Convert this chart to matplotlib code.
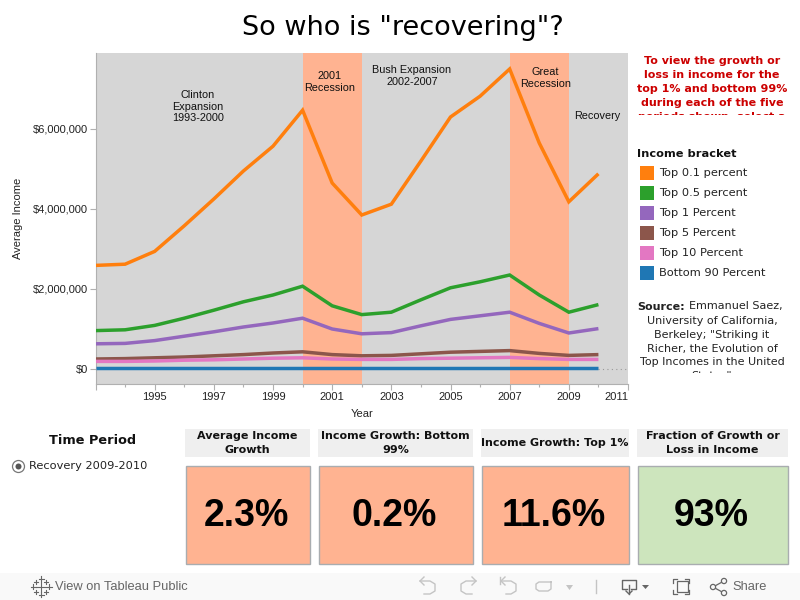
import matplotlib
matplotlib.use('Agg')
import matplotlib.pyplot as plt
from matplotlib.patches import Rectangle, Circle, Polygon
from matplotlib.ticker import FuncFormatter, MultipleLocator
from matplotlib.transforms import Bbox

years = list(range(1993, 2011))
top_01 = [2.59, 2.62, 2.94, 3.58, 4.25, 4.95, 5.57, 6.47, 4.65, 3.85, 4.12, 5.2, 6.3, 6.82, 7.5, 5.65, 4.18, 4.88]
top_05 = [0.96, 0.98, 1.09, 1.27, 1.47, 1.68, 1.85, 2.07, 1.58, 1.36, 1.42, 1.73, 2.03, 2.18, 2.35, 1.85, 1.42, 1.61]
top_1 = [0.63, 0.64, 0.71, 0.82, 0.93, 1.05, 1.15, 1.27, 1.0, 0.88, 0.91, 1.08, 1.24, 1.33, 1.42, 1.14, 0.9, 1.01]
top_5 = [0.25, 0.26, 0.28, 0.3, 0.33, 0.36, 0.4, 0.43, 0.36, 0.33, 0.34, 0.38, 0.42, 0.44, 0.46, 0.39, 0.34, 0.36]
top_10 = [0.19, 0.19, 0.2, 0.22, 0.23, 0.25, 0.27, 0.28, 0.25, 0.24, 0.24, 0.26, 0.27, 0.28, 0.29, 0.26, 0.24, 0.24]
bottom_90 = [0.03, 0.03, 0.03, 0.03, 0.03, 0.03, 0.03, 0.03, 0.03, 0.03, 0.03, 0.03, 0.03, 0.03, 0.03, 0.03, 0.03, 0.03]

series_names = ['Top 0.1 percent', 'Top 0.5 percent', 'Top 1 Percent',
                'Top 5 Percent', 'Top 10 Percent', 'Bottom 90 Percent']
series_values = [top_01, top_05, top_1, top_5, top_10, bottom_90]
series_colors = ['#ff7f0e', '#2ca02c', '#9467bd', '#8c564b', '#e377c2', '#1f77b4']

recessions = [(2000, 2002), (2007, 2009)]
period_labels = [(1996.46, 6.97, 'Clinton\nExpansion\n1993-2000'),
                 (2000.9, 7.45, '2001\nRecession'),
                 (2003.7, 7.6, 'Bush Expansion\n2002-2007'),
                 (2008.2, 7.55, 'Great\nRecession'),
                 (2009.95, 6.45, 'Recovery')]
x_ticks = [1993, 1995, 1997, 1999, 2001, 2003, 2005, 2007, 2009, 2011]
x_tick_labels = ['', '1995', '1997', '1999', '2001', '2003', '2005', '2007', '2009', '2011']

kpi_titles = ['Average Income\nGrowth', 'Income Growth: Bottom\n99%', 'Income Growth: Top 1%',
              'Fraction of Growth or\nLoss in Income']
kpi_values = ['2.3%', '0.2%', '11.6%', '93%']
kpi_colors = ['#ffb391', '#ffb391', '#ffb391', '#cde5bd']
kpi_left = [185, 318, 481, 637]
kpi_right = [310, 473, 629, 788]

W, H = 800, 600
fig = plt.figure(figsize=(8, 6), dpi=100)

# main chart, placed by pixels
ax = fig.add_axes([95.5 / W, 1 - 384 / H, (628 - 95.5) / W, (384 - 53) / H])
ax.set_facecolor('#d6d6d6')
for start, end in recessions:
    ax.axvspan(start, end, color='#ffb391', lw=0, zorder=1)
for vals, col in zip(series_values, series_colors):
    ax.plot(years, vals, color=col, lw=2.5, zorder=3, solid_capstyle='butt', solid_joinstyle='miter')
ax.plot([2010, 2011], [0, 0], color='#999999', lw=0.8, ls=(0, (1, 3)), zorder=2)
ax.set_xticks(x_ticks)
ax.set_xticklabels(x_tick_labels)
ax.set_xlim(1993, 2011)
ax.set_ylim(-0.375, 7.9)
ax.xaxis.set_minor_locator(MultipleLocator(1))
ax.yaxis.set_major_locator(MultipleLocator(2))
ax.yaxis.set_major_formatter(FuncFormatter(lambda v, p: '${:,.0f}'.format(v * 1e6)))
ax.tick_params(which='major', length=4, width=0.8, color='#b0b0b0', labelsize=8, pad=1.5, labelcolor='#222222')
ax.tick_params(which='minor', length=2, width=0.8, color='#b0b0b0')
for lab in ax.get_xticklabels() + ax.get_yticklabels():
    lab.set_family('Liberation Sans')
ax.get_xticklabels()[-1].set_ha('right')
for side in ['top', 'right']:
    ax.spines[side].set_visible(False)
for side in ['left', 'bottom']:
    ax.spines[side].set_color('#b0b0b0')
ax.set_xlabel('Year', fontsize=8, family='Liberation Sans', color='#222222')
ax.xaxis.set_label_coords(0.5, -0.075)
ax.set_ylabel('Average Income', fontsize=8, family='Liberation Sans', color='#222222')
ax.yaxis.set_label_coords(-0.136, 0.5)
for x, y, txt in period_labels:
    ax.text(x, y, txt, ha='center', va='top', fontsize=7.8, family='Liberation Sans',
            linespacing=1.2, color='#111111', zorder=4)

# overlay in pixel coordinates for everything around the chart
ov = fig.add_axes([0, 0, 1, 1], zorder=5)
ov.set_xlim(0, W)
ov.set_ylim(H, 0)
ov.axis('off')


def clip_text(t, x0, y0, x1, y1):
    # cut the text off like the scrolling boxes in the dashboard, box is in display pixels
    t.set_clip_box(Bbox([[x0, H - y1], [x1, H - y0]]))
    t.set_clip_on(True)


ov.text(403, 28, 'So who is "recovering"?', ha='center', va='center', fontsize=19.5, color='black')

red = ov.text(712, 56.5, 'To view the growth or\nloss in income for the\ntop 1% and bottom 99%\nduring each of the five\nperiods shown, select a',
              ha='center', va='top', fontsize=8, fontweight='bold', color='#cc0000', linespacing=1.47)
clip_text(red, 630, 50, 800, 115)

ov.text(637, 154, 'Income bracket', ha='left', va='center', fontsize=8.2, fontweight='bold', color='#111111')
for i, (name, col) in enumerate(zip(series_names, series_colors)):
    yc = 172.5 + i * 20
    ov.add_patch(Rectangle((640, yc - 7), 14, 14, fc=col, ec='none'))
    ov.text(659, yc, name, ha='left', va='center', fontsize=8.2, color='#222222')

ov.text(685, 306.5, 'Source:', ha='right', va='center', fontsize=8, fontweight='bold', color='#222222')
ov.text(689, 306.5, 'Emmanuel Saez,', ha='left', va='center', fontsize=8, color='#222222')
src = ov.text(712, 316, 'University of California,\nBerkeley; "Striking it\nRicher, the Evolution of\nTop Incomes in the United\nStates"',
              ha='center', va='top', fontsize=8, color='#222222', linespacing=1.47)
clip_text(src, 630, 295, 800, 373)

ov.text(93, 440, 'Time Period', ha='center', va='center', fontsize=9.3, fontweight='bold', color='#111111')
ov.add_patch(Circle((18.5, 466.5), 6, fc='white', ec='#777777', lw=0.9))
ov.add_patch(Circle((18.5, 466.5), 3, fc='#555555', ec='none'))
ov.text(29, 466, 'Recovery 2009-2010', ha='left', va='center', fontsize=8.2, color='#222222')

for x0, x1, title, val, col in zip(kpi_left, kpi_right, kpi_titles, kpi_values, kpi_colors):
    ov.add_patch(Rectangle((x0, 429), x1 - x0, 28, fc='#efefef', ec='none'))
    ov.text((x0 + x1) / 2, 443, title, ha='center', va='center', fontsize=8, fontweight='bold',
            color='#111111', linespacing=1.47)
    ov.add_patch(Rectangle((x0 + 0.5, 465.5), x1 - x0 - 1, 98, fc=col, ec='#a9adb0', lw=1))
    ov.text((x0 + x1) / 2 - 1, 516, val, ha='center', va='center', fontsize=27, fontweight='bold',
            family='Liberation Sans', color='black')

# toolbar strip
ov.add_patch(Rectangle((0, 573), W, 27, fc='#f9f9f9', ec='none'))
ov.text(55, 586.5, 'View on Tableau Public', ha='left', va='center', fontsize=9.3,
        family='Liberation Sans', color='#666666')
ov.text(732, 586.5, 'Share', ha='left', va='center', fontsize=9.3, family='Liberation Sans', color='#666666')
icon = '#c4c4c4'
dark = '#666666'
# tableau snowflake
for dx, dy, s in [(0, 0, 5), (-8, 0, 2.5), (8, 0, 2.5), (0, -8, 2.5), (0, 8, 2.5), (-5, -5, 2), (5, -5, 2), (-5, 5, 2), (5, 5, 2)]:
    ov.plot([41 + dx - s, 41 + dx + s], [586.5 + dy, 586.5 + dy], color=dark, lw=0.8)
    ov.plot([41 + dx, 41 + dx], [586.5 + dy - s, 586.5 + dy + s], color=dark, lw=0.8)
# undo / redo / revert / refresh
ov.plot([424, 420, 424], [577, 581, 585], color=icon, lw=1)
ov.plot([420, 430, 435, 435, 430, 424], [581, 581, 584, 591, 594, 594], color=icon, lw=1)
ov.plot([472, 476, 472], [577, 581, 585], color=icon, lw=1)
ov.plot([476, 466, 461, 461, 466, 472], [581, 581, 584, 591, 594, 594], color=icon, lw=1)
ov.plot([505, 501, 505], [577, 581, 585], color=icon, lw=1)
ov.plot([501, 511, 516, 516, 511, 506], [581, 581, 584, 591, 594, 594], color=icon, lw=1)
ov.plot([500, 500], [577, 584], color=icon, lw=1)
ov.plot([551, 539, 536, 536, 539, 548, 551, 551], [582, 582, 584, 589, 591, 591, 589, 582], color=icon, lw=1)
ov.add_patch(Polygon([[566, 585], [573, 585], [569.5, 590]], fc=icon, ec='none'))
ov.plot([595.5, 595.5], [580, 593], color=icon, lw=1)
# download
ov.plot([627, 622, 622, 636, 636, 631], [589, 589, 580, 580, 589, 589], color=dark, lw=1)
ov.plot([629, 629], [585, 594], color=dark, lw=1)
ov.plot([626, 629, 632], [591, 594, 591], color=dark, lw=1)
ov.add_patch(Polygon([[642, 585], [649, 585], [645.5, 589]], fc=dark, ec='none'))
# fullscreen
ov.add_patch(Rectangle((677, 581), 11, 11, fc='none', ec=dark, lw=0.9))
for cx, cy, sx, sy in [(673, 579, 1, 1), (689, 579, -1, 1), (673, 594, 1, -1), (689, 594, -1, -1)]:
    ov.plot([cx + sx * 4, cx, cx], [cy, cy, cy + sy * 4], color=dark, lw=0.9)
# share
for cx, cy in [(713, 587), (724, 581), (724, 593)]:
    ov.add_patch(Circle((cx, cy), 2.6, fc='#f9f9f9', ec=dark, lw=0.9, zorder=3))
ov.plot([724, 713, 724], [581, 587, 593], color=dark, lw=0.9, zorder=2)

fig.savefig('out.png', dpi=100)
